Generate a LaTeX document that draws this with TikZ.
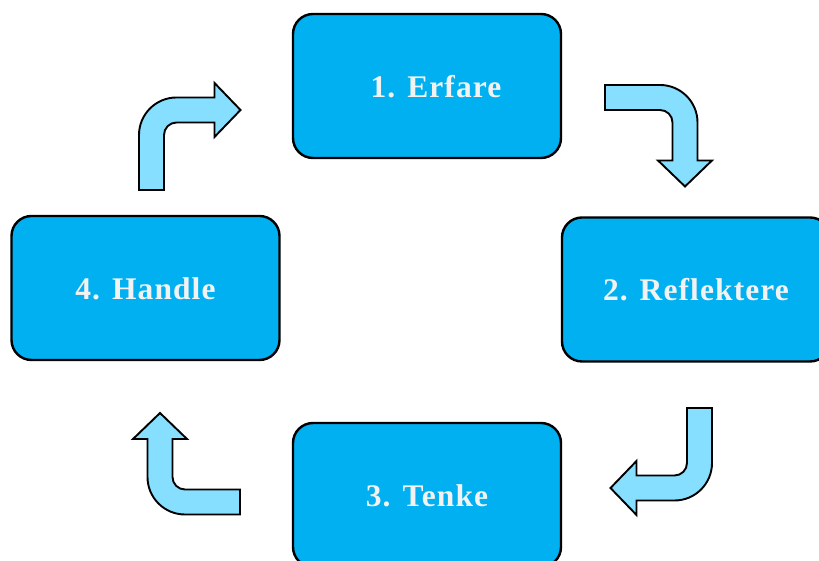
\documentclass[tikz,border=0pt]{standalone}
\usepackage{fontspec}
\newfontfamily\labelfont{Liberation Serif}[LetterSpace=3.5]

\definecolor{boxblue}{RGB}{0,176,240}
\definecolor{arrowblue}{RGB}{134,223,255}
\definecolor{labelgray}{RGB}{242,242,242}

\tikzset{
  stagebox/.style={draw=black, line width=2.4pt, fill=boxblue, rounded corners=20pt,
    minimum width=268pt, minimum height=144pt, inner sep=0pt},
  stagelabel/.style={anchor=base, inner sep=0pt, text=labelgray,
    font=\labelfont\bfseries\fontsize{31.5}{36}\selectfont},
  arrowshape/.style={draw=black, line width=1.9pt, fill=arrowblue, line join=miter},
  % bent block arrow: leaves its origin along +x, turns right and ends pointing along -y
  bentarrow/.pic={
    \path[arrowshape] (0,12.5) -- (55,12.5)
      arc[start angle=90, end angle=0, radius=37.5pt] -- (92.5,-63)
      -- (107,-63) -- (80,-89) -- (53,-63) -- (67.5,-63) -- (67.5,-25)
      arc[start angle=0, end angle=90, radius=12.5pt] -- (0,-12.5) -- cycle;
  }
}

\begin{document}
\begin{tikzpicture}[x=1pt, y=1pt]
  \useasboundingbox (0,0) rectangle (819,561);
  \clip (0,0) rectangle (819,561);

  % the four stages
  \node[stagebox] (erfare)      at (427,475)   {};
  \node[stagebox] (reflektere)  at (696,271.5) {};
  \node[stagebox] (tenke)       at (427,66)    {};
  \node[stagebox] (handle)      at (145.5,273) {};

  \node[stagelabel] (lerfare)     at ([xshift=9pt, yshift=-11.5pt]erfare.center)     {1. Erfare};
  \node[stagelabel] (lreflektere) at ([yshift=-11.5pt]reflektere.center)             {2. Reflektere};
  \node[stagelabel] (ltenke)      at ([yshift=-11.5pt]tenke.center)                  {3. Tenke};
  \node[stagelabel] (lhandle)     at ([yshift=-11.5pt]handle.center)                 {4. Handle};

  % cycle arrows between the stages
  \pic at (605,463.5)           {bentarrow};
  \pic[rotate=-90] at (699.5,153) {bentarrow};
  \pic[rotate=180] at (240,59)    {bentarrow};
  \pic[rotate=90]  at (151.5,371) {bentarrow};
\end{tikzpicture}
\end{document}
